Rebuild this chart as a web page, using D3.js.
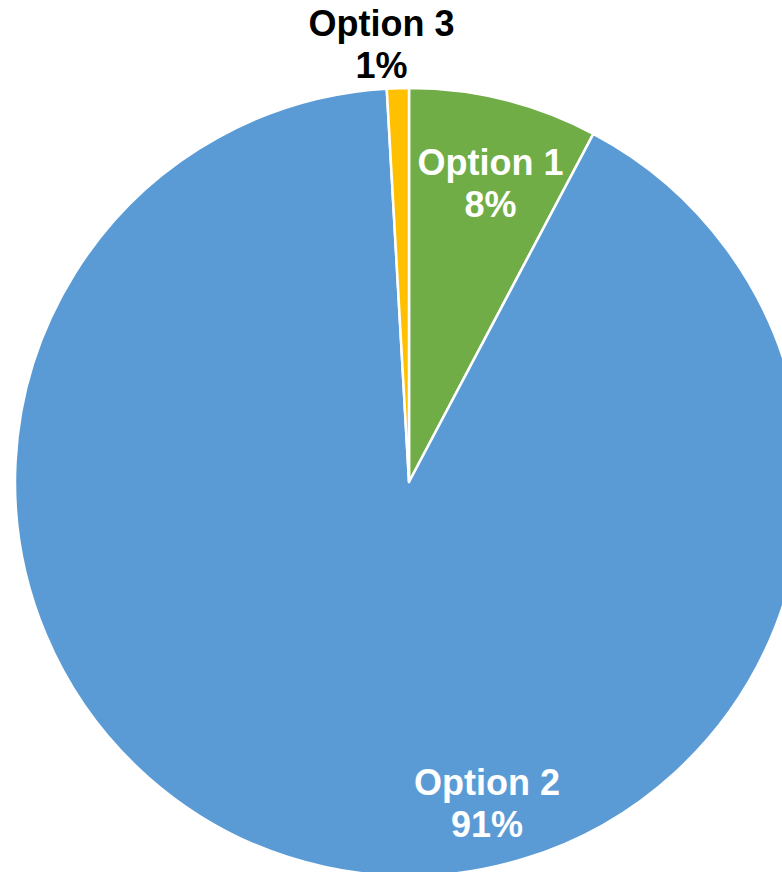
<!DOCTYPE html>
<html>
<head>
<meta charset="utf-8">
<script src="https://cdn.jsdelivr.net/npm/d3@7"></script>
<style>
  html, body { margin: 0; padding: 0; background: #ffffff; overflow: hidden; }
  svg { display: block; }
</style>
</head>
<body>
<svg id="chart" width="782" height="872"></svg>
<script>
// ---- data ----
const categories = ["Option 1", "Option 2", "Option 3"];
const values = [7.75, 91.35, 0.9];
const percentLabels = ["8%", "91%", "1%"];
const colors = ["#70AD47", "#5B9BD5", "#FFC000"];
const labelColors = ["#ffffff", "#ffffff", "#000000"];

// ---- layout ----
const W = 782, H = 872;
const cx = 409, cy = 482, R = 394;
// label placement (polar: degrees clockwise from top, distance from centre)
const labelPolar = [
  { angle: 14.84, dist: 318 },
  { angle: 166.0, dist: 322.6 },
  { angle: -3.53, dist: 446.8 }
];

const svg = d3.select("#chart");
const g = svg.append("g").attr("transform", `translate(${cx},${cy})`);

const data = categories.map((c, i) => ({ name: c, value: values[i], i }));
const pie = d3.pie().sort(null).value(d => d.value);
const arc = d3.arc().innerRadius(0).outerRadius(R);

g.selectAll("path.slice")
  .data(pie(data))
  .join("path")
  .attr("class", "slice")
  .attr("d", arc)
  .attr("fill", d => colors[d.data.i])
  .attr("stroke", "#ffffff")
  .attr("stroke-width", 2.5)
  .attr("stroke-linejoin", "round");

const labels = g.selectAll("text.lbl")
  .data(pie(data))
  .join("text")
  .attr("class", "lbl")
  .attr("text-anchor", "middle")
  .attr("font-family", "'Liberation Sans', Arial, sans-serif")
  .attr("font-weight", "bold")
  .attr("font-size", 36)
  .attr("fill", d => labelColors[d.data.i])
  .attr("transform", d => {
    const p = labelPolar[d.data.i];
    const a = p.angle * Math.PI / 180;
    return `translate(${Math.sin(a) * p.dist},${-Math.cos(a) * p.dist})`;
  });

labels.append("tspan").attr("x", 0).attr("y", 0).text(d => d.data.name);
labels.append("tspan").attr("x", 0).attr("y", 42).text(d => percentLabels[d.data.i]);
</script>
</body>
</html>
